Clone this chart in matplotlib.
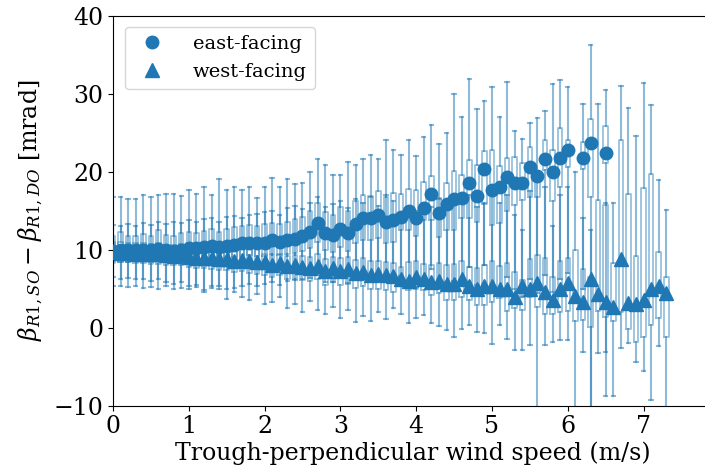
import numpy as np
import matplotlib
matplotlib.use("Agg")
import matplotlib.pyplot as plt
from matplotlib.lines import Line2D

plt.rcParams['font.family'] = ['DejaVu Serif']
plt.rcParams['mathtext.fontset'] = 'dejavuserif'

nan = np.nan

# wind speed bins (m/s)
east_pos = np.round(np.arange(66) * 0.1, 1)
west_pos = np.round(np.arange(74) * 0.1, 1)

east_mean = [9.8, 9.9, 9.9, 9.9, 10.0, 9.9, 10.1, 10.0, 9.8, 10.0,
             10.2, 10.2, 10.3, 10.5, 10.3, 10.5, 10.6, 10.8, 10.9, 10.8,
             10.9, 11.2, 11.0, 11.3, 11.4, 11.7, 12.3, 13.4, 12.1, 11.9,
             12.7, 12.1, 13.3, 14.0, 14.0, 14.4, 13.5, 13.8, 14.2, 14.9,
             14.0, 15.4, 17.1, 14.7, 15.8, 16.5, 16.6, 18.5, 16.9, 20.4,
             17.6, 18.1, 19.3, 18.6, 18.5, 20.6, 19.5, 21.6, 19.9, 21.7,
             22.8, nan, 21.7, 23.7, nan, 22.4]
east_q3 = [11.8, 12.3, 11.7, 11.7, 12.0, 11.8, 12.5, 11.9, 11.8, 12.1,
           12.3, 12.2, 12.4, 12.6, 12.3, 12.7, 12.9, 13.0, 13.2, 13.1,
           13.3, 13.4, 13.3, 13.6, 13.9, 14.2, 15.0, 16.0, 14.8, 14.5,
           15.5, 14.9, 16.2, 17.0, 16.9, 17.5, 16.8, 17.3, 17.2, 17.8,
           17.6, 18.7, 19.4, 16.6, 18.5, 20.1, 19.6, 21.5, 20.9, 22.6,
           22.8, 20.7, 21.8, 21.9, 21.1, 23.2, 20.0, 24.1, 22.8, 25.6,
           24.1, nan, 23.8, 26.8, nan, 25.8]
east_q1 = [8.3, 8.4, 8.4, 8.5, 8.6, 8.4, 8.7, 8.6, 8.3, 8.6,
           8.7, 8.8, 8.8, 9.0, 8.8, 9.0, 9.1, 9.2, 9.3, 9.2,
           9.2, 9.5, 9.3, 9.5, 9.6, 9.8, 10.2, 11.0, 9.9, 9.7,
           10.3, 9.8, 10.8, 11.2, 11.3, 11.5, 10.8, 11.0, 12.5, 12.5,
           11.8, 13.8, 13.8, 11.6, 12.5, 12.5, 14.1, 14.1, 13.6, 15.9,
           13.2, 13.4, 14.9, 15.7, 16.4, 16.8, 16.8, 20.2, 16.2, 18.1,
           20.6, nan, 20.4, 16.8, nan, 21.1]
east_whishi = [16.8, 16.8, 16.5, 16.5, 17.0, 16.8, 17.0, 17.1, 17.2, 16.9,
               17.6, 17.2, 18.1, 17.0, 19.1, 17.6, 18.1, 17.7, 18.1, 16.6,
               18.1, 19.2, 18.1, 19.0, 18.4, 18.5, 19.9, 21.6, 20.9, 19.6,
               19.6, 21.3, 20.9, 21.6, 22.1, 21.6, 24.1, 22.8, 22.1, 24.1,
               22.0, 24.5, 26.0, 23.5, 25.0, 30.0, 27.0, 31.9, 28.0, 29.0,
               30.9, 27.0, 31.5, 25.2, 24.2, 26.3, 26.9, 27.8, 31.2, 31.7,
               30.9, nan, 28.7, 36.2, nan, 30.5]
east_whislo = [5.3, 5.3, 5.2, 5.3, 5.1, 5.2, 5.0, 5.3, 4.9, 5.1,
               5.0, 5.2, 4.8, 5.4, 5.0, 4.9, 5.1, 5.4, 5.6, 5.3,
               5.6, 5.9, 5.5, 6.0, 6.1, 6.3, 6.4, 6.8, 5.9, 5.8,
               6.5, 5.7, 6.6, 7.0, 6.8, 7.2, 6.2, 6.4, 6.6, 6.0,
               5.2, 6.3, 7.5, 5.0, 5.8, 6.0, 5.5, 7.8, 5.5, 8.0,
               5.0, 4.8, 6.5, 5.0, 4.0, 6.2, 4.5, 6.8, 4.6, 6.2,
               7.0, nan, 5.0, -14.0, nan, -8.7]

west_mean = [9.7, 9.6, 9.6, 9.5, 9.5, 9.4, 9.4, 9.3, 9.2, 9.3,
             9.1, 9.0, 9.0, 8.9, 8.8, 8.8, 8.6, 8.7, 8.5, 8.4,
             8.4, 8.1, 8.3, 7.9, 8.0, 7.8, 7.7, 7.9, 7.3, 7.6,
             7.3, 7.5, 7.0, 7.2, 6.8, 6.9, 6.7, 6.6, 6.3, 6.0,
             6.5, 6.2, 5.9, 6.0, 5.6, 5.6, 6.2, 5.3, 4.9, 5.3,
             5.4, 5.0, 5.0, 4.0, 5.4, 4.9, 5.7, 4.6, 3.6, 4.9,
             5.7, 4.1, 3.3, 6.3, 4.3, 3.3, 2.7, 8.8, 3.2, 3.1,
             3.6, 4.9, 5.3, 4.5]
west_q3 = [11.0, 11.0, 10.9, 10.8, 10.9, 10.7, 10.8, 10.6, 10.6, 10.7,
           10.5, 10.5, 10.5, 10.4, 10.4, 10.3, 10.2, 10.3, 10.2, 10.1,
           9.5, 9.3, 9.5, 9.2, 9.3, 9.2, 9.1, 9.4, 8.8, 9.1,
           8.9, 9.1, 8.7, 8.9, 8.5, 8.6, 8.4, 8.3, 7.8, 8.4,
           8.6, 8.2, 8.0, 8.3, 8.0, 8.2, 8.6, 7.8, 7.6, 8.0,
           8.5, 7.9, 8.3, 7.2, 6.1, 8.8, 9.3, 9.0, 6.5, 8.5,
           9.0, 10.0, 7.5, 6.5, 16.4, 15.7, 8.3, 24.0, 17.2, 9.2,
           17.9, 19.7, 9.7, 6.5]
west_q1 = [8.5, 8.4, 8.4, 8.3, 8.3, 8.2, 8.2, 8.1, 8.0, 8.0,
           7.8, 7.7, 7.7, 7.5, 7.4, 7.4, 7.2, 7.3, 7.0, 6.9,
           6.8, 6.5, 6.7, 6.3, 6.3, 6.1, 6.0, 6.2, 5.5, 5.8,
           5.5, 5.6, 5.1, 5.3, 4.9, 5.0, 4.8, 4.6, 5.3, 4.8,
           5.0, 4.8, 4.2, 4.4, 3.6, 3.6, 4.0, 3.6, 2.9, 2.9,
           3.3, 3.8, 2.1, 2.5, 2.3, 4.0, 2.7, 1.8, 1.8, 2.0,
           2.1, 0.9, 1.0, 0.1, 2.1, 1.4, 0.8, 2.0, -0.2, -1.8,
           -1.2, 0.3, 1.2, -1.2]
west_whishi = [13.2, 13.0, 13.3, 13.1, 13.4, 13.2, 13.5, 13.3, 13.6, 13.4,
               13.8, 13.5, 13.9, 14.0, 13.6, 14.2, 14.3, 14.0, 14.5, 14.6,
               14.8, 15.0, 14.4, 15.3, 15.6, 15.2, 16.0, 16.8, 15.5, 15.8,
               16.3, 15.4, 16.5, 16.0, 16.8, 15.6, 17.0, 16.2, 14.5, 15.5,
               15.0, 16.0, 15.5, 16.5, 16.0, 17.0, 16.5, 17.0, 15.5, 16.0,
               17.5, 16.0, 17.0, 14.5, 12.5, 17.5, 19.0, 18.0, 13.0, 17.0,
               18.0, 20.0, 14.0, 12.5, 28.7, 16.0, 16.0, 31.0, 28.2, 24.6,
               31.4, 28.5, 18.9, 15.1]
west_whislo = [6.5, 6.3, 6.4, 6.3, 6.2, 6.0, 6.2, 5.8, 5.6, 5.9,
               5.4, 5.5, 4.6, 5.1, 5.3, 3.7, 4.6, 4.0, 3.5, 4.3,
               3.0, 3.3, 4.0, 2.5, 3.1, 2.0, 3.4, 2.3, 1.8, 2.7,
               1.2, 2.3, 0.7, 1.5, 0.9, 2.0, 1.1, 2.5, 1.8, 0.6,
               1.3, 1.6, 0.6, 0.2, -0.3, -1.2, -0.2, 0.3, -0.5, -0.7,
               -2.1, 0.3, -1.5, -2.9, -2.9, -2.2, -14.0, -2.2, -1.8, -1.6,
               -1.6, -14.0, -3.1, -14.0, -3.3, -3.1, -8.8, -2.6, -2.0, -4.4,
               -5.6, -9.3, -2.4, -14.0]

labels = ['east-facing', 'west-facing']
xlabel = 'Trough-perpendicular wind speed (m/s)'
ylabel = r'$\beta_{R1,SO} - \beta_{R1,DO}$ [mrad]'

C0 = '#1f77b4'


def make_stats(mean, q1, q3, lo, hi, pos):
    stats, p = [], []
    for m, a, b, l, h, x in zip(mean, q1, q3, lo, hi, pos):
        if np.isnan(a):
            continue
        stats.append(dict(med=min(max(m, a), b) if not np.isnan(m) else (a + b) / 2,
                          q1=a, q3=b, whislo=l, whishi=h, fliers=[]))
        p.append(x)
    return stats, p


fig = plt.figure(figsize=(7.05, 4.73), dpi=100)
ax = fig.add_axes([113 / 705, 67.3 / 473, 598.8 / 705, 390 / 473])

style = dict(widths=0.06, capwidths=0.045, showfliers=False, manage_ticks=False,
             boxprops=dict(color=C0, alpha=0.5, lw=1.2),
             whiskerprops=dict(color=C0, alpha=0.5, lw=1.5),
             capprops=dict(color=C0, alpha=0.5, lw=1.5),
             medianprops=dict(lw=0))

s, p = make_stats(east_mean, east_q1, east_q3, east_whislo, east_whishi, east_pos)
ax.bxp(s, positions=p, **style)
s, p = make_stats(west_mean, west_q1, west_q3, west_whislo, west_whishi, west_pos)
ax.bxp(s, positions=p, **style)

ax.plot(east_pos, east_mean, 'o', color=C0, ms=9, ls='none', zorder=4)
ax.plot(west_pos, west_mean, '^', color=C0, ms=9.5, ls='none', zorder=4)

ax.set_xlim(0, 7.9)
ax.set_ylim(-10, 40)
ax.set_xticks(range(0, 8))
ax.set_yticks(range(-10, 41, 10))
ax.tick_params(labelsize=17)
ax.spines['right'].set_visible(False)
ax.set_xlabel(xlabel, fontsize=17, labelpad=2)
ax.set_ylabel(ylabel, fontsize=17, labelpad=6)

handles = [Line2D([], [], marker='o', ls='none', color=C0, ms=9, label=labels[0]),
           Line2D([], [], marker='^', ls='none', color=C0, ms=9.5, label=labels[1])]
ax.legend(handles=handles, loc='upper left', fontsize=14, handletextpad=1.1,
          borderaxespad=0.6)

fig.savefig('out.png', dpi=100)
